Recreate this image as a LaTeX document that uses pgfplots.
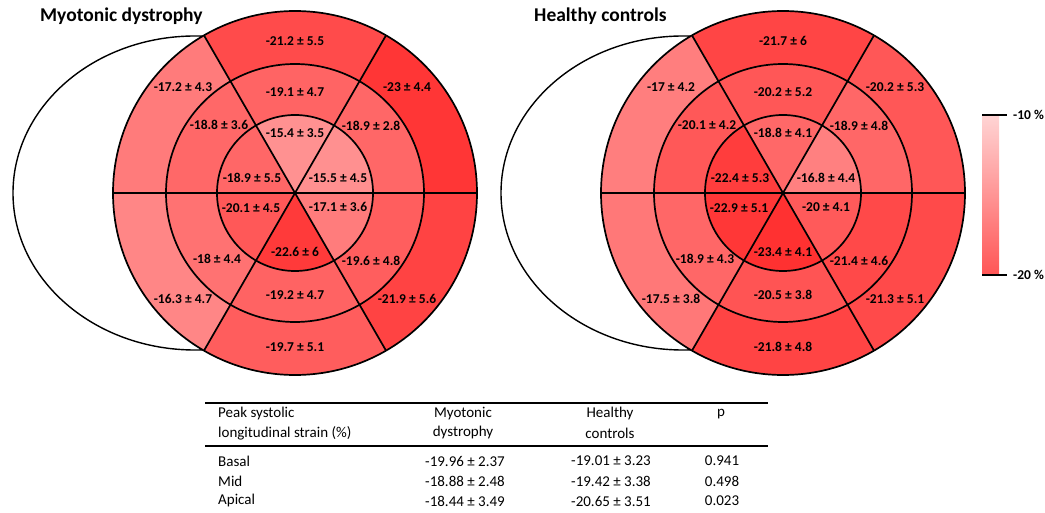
\documentclass[border=0pt]{standalone}
\usepackage{pgfplots}
\pgfplotsset{compat=1.18}
\usepackage{fontspec}
\setmainfont{Carlito}

\newcommand\seglab{\fontsize{13.5}{16}\selectfont\bfseries}
\newcommand\titlefont{\fontsize{19.5}{22}\selectfont\bfseries}
\newcommand\tabfont{\fontsize{15}{18}\selectfont}

% segment: cx, cy, start angle, r inner, r outer, mean, sd, label dx, label dy
\newcommand\segfill[9]{%
  \pgfmathtruncatemacro\gg{max(40,min(215,210-12*(-(#6)-10)))}%
  \pgfmathsetmacro\xa{#1+#5*cos(#3)}%
  \pgfmathsetmacro\ya{#2+#5*sin(#3)}%
  \pgfmathsetmacro\xb{#1+#4*cos(#3+60)}%
  \pgfmathsetmacro\yb{#2+#4*sin(#3+60)}%
  \pgfmathsetmacro\ae{#3+60}%
  \edef\doseg{%
    \noexpand\fill[fill={rgb,255:red,255;green,\gg;blue,\gg}] (axis cs:\xa,\ya) arc[start angle=#3,end angle=\ae,radius=#5pt] -- (axis cs:\xb,\yb) arc[start angle=\ae,end angle=#3,radius=#4pt] -- cycle;}%
  \doseg}
\newcommand\seglabel[9]{%
  \pgfmathsetmacro\lx{#1+#8}%
  \pgfmathsetmacro\ly{#2+#9}%
  \edef\doseg{%
    \noexpand\node[font=\noexpand\seglab, inner sep=0pt] at (axis cs:\lx,\ly) {#6 ± #7};}%
  \doseg}

\newcommand\bullseyedata{%
  % Myotonic dystrophy
  \seg{295}{319}{60}{129}{182}{-21.2}{5.5}{0}{152}%
  \seg{295}{319}{0}{129}{182}{-23}{4.4}{112}{106}%
  \seg{295}{319}{120}{129}{182}{-17.2}{4.3}{-112}{106}%
  \seg{295}{319}{180}{129}{182}{-16.3}{4.7}{-112}{-106}%
  \seg{295}{319}{240}{129}{182}{-19.7}{5.1}{0}{-154}%
  \seg{295}{319}{300}{129}{182}{-21.9}{5.6}{112}{-106}%
  \seg{295}{319}{60}{78}{129}{-19.1}{4.7}{0}{101}%
  \seg{295}{319}{0}{78}{129}{-18.9}{2.8}{76}{67}%
  \seg{295}{319}{120}{78}{129}{-18.8}{3.6}{-76}{68}%
  \seg{295}{319}{180}{78}{129}{-18}{4.4}{-78}{-66}%
  \seg{295}{319}{240}{78}{129}{-19.2}{4.7}{0}{-102}%
  \seg{295}{319}{300}{78}{129}{-19.6}{4.8}{76}{-68}%
  \seg{295}{319}{60}{0}{78}{-15.4}{3.5}{0}{60}%
  \seg{295}{319}{0}{0}{78}{-15.5}{4.5}{43}{15}%
  \seg{295}{319}{120}{0}{78}{-18.9}{5.5}{-43}{15}%
  \seg{295}{319}{180}{0}{78}{-20.1}{4.5}{-44}{-15}%
  \seg{295}{319}{240}{0}{78}{-22.6}{6}{0}{-59}%
  \seg{295}{319}{300}{0}{78}{-17.1}{3.6}{43}{-14}%
  % Healthy controls
  \seg{783}{319}{60}{129}{182}{-21.7}{6}{0}{152}%
  \seg{783}{319}{0}{129}{182}{-20.2}{5.3}{112}{106}%
  \seg{783}{319}{120}{129}{182}{-17}{4.2}{-112}{106}%
  \seg{783}{319}{180}{129}{182}{-17.5}{3.8}{-112}{-106}%
  \seg{783}{319}{240}{129}{182}{-21.8}{4.8}{0}{-154}%
  \seg{783}{319}{300}{129}{182}{-21.3}{5.1}{112}{-106}%
  \seg{783}{319}{60}{78}{129}{-20.2}{5.2}{0}{101}%
  \seg{783}{319}{0}{78}{129}{-18.9}{4.8}{76}{67}%
  \seg{783}{319}{120}{78}{129}{-20.1}{4.2}{-76}{68}%
  \seg{783}{319}{180}{78}{129}{-18.9}{4.3}{-78}{-66}%
  \seg{783}{319}{240}{78}{129}{-20.5}{3.8}{0}{-102}%
  \seg{783}{319}{300}{78}{129}{-21.4}{4.6}{76}{-68}%
  \seg{783}{319}{60}{0}{78}{-18.8}{4.1}{0}{60}%
  \seg{783}{319}{0}{0}{78}{-16.8}{4.4}{43}{15}%
  \seg{783}{319}{120}{0}{78}{-22.4}{5.3}{-43}{15}%
  \seg{783}{319}{180}{0}{78}{-22.9}{5.1}{-44}{-15}%
  \seg{783}{319}{240}{0}{78}{-23.4}{4.1}{0}{-59}%
  \seg{783}{319}{300}{0}{78}{-20}{4.1}{43}{-14}%
}

\definecolor{cbtop}{RGB}{255,212,212}
\definecolor{cbbot}{RGB}{255,85,85}

\begin{document}
\begin{tikzpicture}
\begin{axis}[
  x=1pt, y=1pt,
  xmin=0, xmax=1045, ymin=0, ymax=512,
  hide axis, clip=false, scale only axis,
]
\path (axis cs:0,0) rectangle (axis cs:1045,512);
% ellipses behind
\draw[fill=white, line width=1.4pt] (axis cs:195,319) ellipse [x radius=182pt, y radius=157pt];
\draw[fill=white, line width=1.4pt] (axis cs:683,319) ellipse [x radius=182pt, y radius=157pt];
% segments
\let\seg\segfill
\bullseyedata
% lines
\foreach \cx in {295,783}{
  \edef\dolines{%
  \noexpand\draw[line width=1.7pt] (axis cs:\cx,319) circle[radius=182pt];
  \noexpand\draw[line width=1.7pt] (axis cs:\cx,319) circle[radius=129pt];
  \noexpand\draw[line width=1.7pt] (axis cs:\cx,319) circle[radius=78pt];
  }\dolines
}
\draw[line width=1.7pt] (axis cs:113,319) -- (axis cs:477,319);
\draw[line width=1.7pt] (axis cs:386,476.6) -- (axis cs:204,161.4);
\draw[line width=1.7pt] (axis cs:204,476.6) -- (axis cs:386,161.4);
\draw[line width=1.7pt] (axis cs:601,319) -- (axis cs:965,319);
\draw[line width=1.7pt] (axis cs:874,476.6) -- (axis cs:692,161.4);
\draw[line width=1.7pt] (axis cs:692,476.6) -- (axis cs:874,161.4);
% labels
\let\seg\seglabel
\bullseyedata
% titles
\node[anchor=west, font=\titlefont, inner sep=0pt] at (axis cs:40,496) {Myotonic dystrophy};
\node[anchor=west, font=\titlefont, inner sep=0pt] at (axis cs:534,496) {Healthy controls};
% colour bar
\shade[top color=cbtop, bottom color=cbbot] (axis cs:982,237) rectangle (axis cs:999,397);
\draw[line width=1.5pt] (axis cs:982,397) -- (axis cs:1007,397);
\draw[line width=1.5pt] (axis cs:982,237) -- (axis cs:1007,237);
\node[anchor=west, font=\seglab, inner sep=0pt] at (axis cs:1013,397) {-10 \%};
\node[anchor=west, font=\seglab, inner sep=0pt] at (axis cs:1013,237) {-20 \%};
% table
\draw[line width=1.3pt] (axis cs:205,109) -- (axis cs:768,109);
\draw[line width=1.8pt] (axis cs:205,66) -- (axis cs:768,66);
\node[anchor=west, font=\tabfont, inner sep=0pt] at (axis cs:218,98) {Peak systolic};
\node[anchor=west, font=\tabfont, inner sep=0pt] at (axis cs:218,79) {longitudinal strain (\%)};
\node[font=\tabfont, inner sep=0pt] at (axis cs:463,98) {Myotonic};
\node[font=\tabfont, inner sep=0pt] at (axis cs:463,79) {dystrophy};
\node[font=\tabfont, inner sep=0pt] at (axis cs:610,98) {Healthy};
\node[font=\tabfont, inner sep=0pt] at (axis cs:610,79) {controls};
\node[font=\tabfont, inner sep=0pt] at (axis cs:721,98) {p};
\node[anchor=west, font=\tabfont, inner sep=0pt] at (axis cs:218,51) {Basal};
\node[anchor=west, font=\tabfont, inner sep=0pt] at (axis cs:218,31) {Mid};
\node[anchor=west, font=\tabfont, inner sep=0pt] at (axis cs:218,11) {Apical};
\node[font=\tabfont, inner sep=0pt] at (axis cs:465,51) {-19.96 ± 2.37};
\node[font=\tabfont, inner sep=0pt] at (axis cs:465,31) {-18.88 ± 2.48};
\node[font=\tabfont, inner sep=0pt] at (axis cs:465,11) {-18.44 ± 3.49};
\node[font=\tabfont, inner sep=0pt] at (axis cs:611,51) {-19.01 ± 3.23};
\node[font=\tabfont, inner sep=0pt] at (axis cs:611,31) {-19.42 ± 3.38};
\node[font=\tabfont, inner sep=0pt] at (axis cs:611,11) {-20.65 ± 3.51};
\node[font=\tabfont, inner sep=0pt] at (axis cs:722,51) {0.941};
\node[font=\tabfont, inner sep=0pt] at (axis cs:722,31) {0.498};
\node[font=\tabfont, inner sep=0pt] at (axis cs:722,11) {0.023};
\end{axis}
\end{tikzpicture}
\end{document}
